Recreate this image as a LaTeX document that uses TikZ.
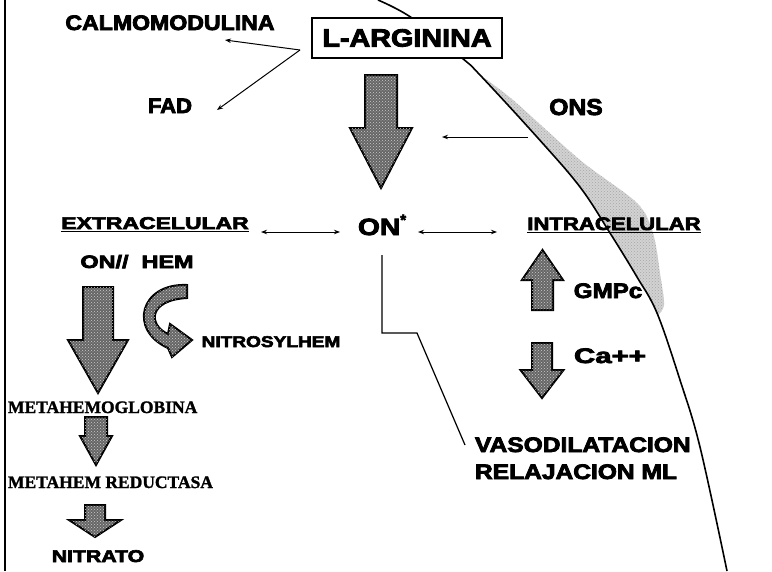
\documentclass[tikz,border=0pt]{standalone}
\usepackage{fontspec}
\usepackage{graphicx}
\usetikzlibrary{arrows.meta,patterns}
\newfontfamily\blk{Liberation Sans Bold}[FakeBold=3.5]
\newfontfamily\tms{Liberation Serif Bold}[FakeBold=1.5]
\newcommand\hv[3]{\scalebox{#2}[1]{\fontsize{#1}{#1}\blk #3}}
\newcommand\tm[2]{{\fontsize{#1}{#1}\tms #2}}
\newcommand\blockdn[6]{\draw[blockarrow] (#1-#5,#2) -- (#1+#5,#2) -- (#1+#5,#3) -- (#1+#6,#3) -- (#1,#4) -- (#1-#6,#3) -- (#1-#5,#3) -- cycle;}
\tikzset{
  txt/.style={inner sep=0pt, outer sep=0pt},
  blockarrow/.style={draw=black, line width=2pt, line join=miter, fill=gray!80!black,
    postaction={pattern=crosshatch dots, pattern color=gray!40}},
  thinarrow/.style={line width=1pt, -{Stealth[length=6pt,width=4.5pt]}},
  dblarrow/.style={line width=1pt, {Stealth[length=6pt,width=4.5pt]}-{Stealth[length=6pt,width=4.5pt]}},
  uline/.style={line width=1.3pt}
}
\begin{document}
\begin{tikzpicture}[x=1pt,y=-1pt]
\useasboundingbox (0,0) rectangle (772,571);
\fill[white] (0,0) rectangle (772,571);
% left border
\draw[line width=2pt] (5,0) -- (5,571);
% shaded wedge
\fill[gray!35, postaction={pattern=crosshatch dots, pattern color=gray!70}] plot[smooth] coordinates {(480,75)(513,100)(580,160)(637,203)(653,233)(660,273)(664,305)(657,316)}
  -- plot[smooth] coordinates {(657,313)(637,277)(610,233)(580,187)(537,137)(480,75)} -- cycle;
% membrane curve
\draw[line width=1.6pt] plot[smooth, tension=0.6] coordinates {(378,0)(412,18)(462,58)(480,75)(537,137)(580,187)(610,233)(637,277)(657,313)(680,380)(700,447)(727,571)};
% L-ARGININA box
\node[txt, draw, line width=1.4pt, fill=white, minimum width=190pt, minimum height=40pt] (larg) at (407,38) {\hv{25}{1.15}{L-ARGININA}};
% texts
\node[txt, anchor=base] (calm) at (170,30) {\hv{21}{1.1}{CALMOMODULINA}};
\node[txt, anchor=base] (fad) at (170,113) {\hv{21}{1.05}{FAD}};
\node[txt, anchor=base] (ons) at (576,115) {\hv{23}{1.07}{ONS}};
\node[txt, anchor=base] (ext) at (155,229) {\hv{17}{1.35}{EXTRACELULAR}};
\node[txt, anchor=base west] (on) at (358,235) {\hv{23.5}{1.2}{ON}\raisebox{10pt}{\hv{15}{1}{*}}};
\node[txt, anchor=base] (int) at (614,230) {\hv{18}{1.23}{INTRACELULAR}};
\node[txt, anchor=base] (onhem) at (137,268) {\hv{18}{1.3}{ON//\ \ HEM}};
\node[txt, anchor=base] (nitros) at (271,347) {\hv{15.5}{1.23}{NITROSYLHEM}};
\node[txt, anchor=base] (nitrato) at (98,562) {\hv{17}{1.25}{NITRATO}};
\node[txt, anchor=base] (gmpc) at (608,298) {\hv{21}{1.15}{GMPc}};
\node[txt, anchor=base] (ca) at (610,363) {\hv{21}{1.4}{Ca++}};
\node[txt, anchor=base west] (vaso) at (475,452) {\hv{21}{1.17}{VASODILATACION}};
\node[txt, anchor=base west] (rel) at (475,479) {\hv{21}{1.17}{RELAJACION ML}};
\node[txt, anchor=base west] (meta) at (8,413) {\tm{17.5}{METAHEMOGLOBINA}};
\node[txt, anchor=base west] (red) at (8,488) {\tm{17.5}{METAHEM REDUCTASA}};
% underlines
\draw[uline] ([yshift=-2.5pt]ext.base west) -- ([yshift=-2.5pt]ext.base east);
\draw[uline] ([yshift=-2.5pt]int.base west) -- ([yshift=-2.5pt]int.base east);
% connectors
\coordinate (fork) at (300,50);
\coordinate (calmtip) at (225,40);
\coordinate (fadtip) at (217,110);
\draw[thinarrow] (fork) -- (calmtip);
\draw[thinarrow] (fork) -- (fadtip);
\coordinate (onsA) at (528,137);
\coordinate (onsB) at (442,137);
\draw[thinarrow] (onsA) -- (onsB);
\coordinate (e1) at (261,232);
\coordinate (e2) at (340,232);
\draw[dblarrow] (e1) -- (e2);
\coordinate (i1) at (418,232);
\coordinate (i2) at (497,232);
\draw[dblarrow] (i1) -- (i2);
\coordinate (v1) at (382,255);
\coordinate (v2) at (382,333);
\coordinate (v3) at (417,333);
\coordinate (v4) at (465,445);
\draw[line width=1.2pt] (v1) -- (v2) -- (v3) -- (v4);
% block arrows
\blockdn{381}{75}{128}{188}{16}{31}
\blockdn{98}{287}{340}{393}{15}{30}
\blockdn{96}{417}{436}{465}{11}{16}
\blockdn{95}{505}{520}{537}{10}{26}
\blockdn{542.5}{310}{280}{250}{10.5}{20.5}
\blockdn{542}{343}{370}{398}{10}{21.5}
% curved arrow
\draw[blockarrow] (187,285) .. controls (140,283) and (128,330) .. (168,348) -- (172,357) -- (192,340) -- (170,324) -- (168,334) .. controls (148,325) and (148,300) .. (187,298) -- cycle;
\end{tikzpicture}
\end{document}
